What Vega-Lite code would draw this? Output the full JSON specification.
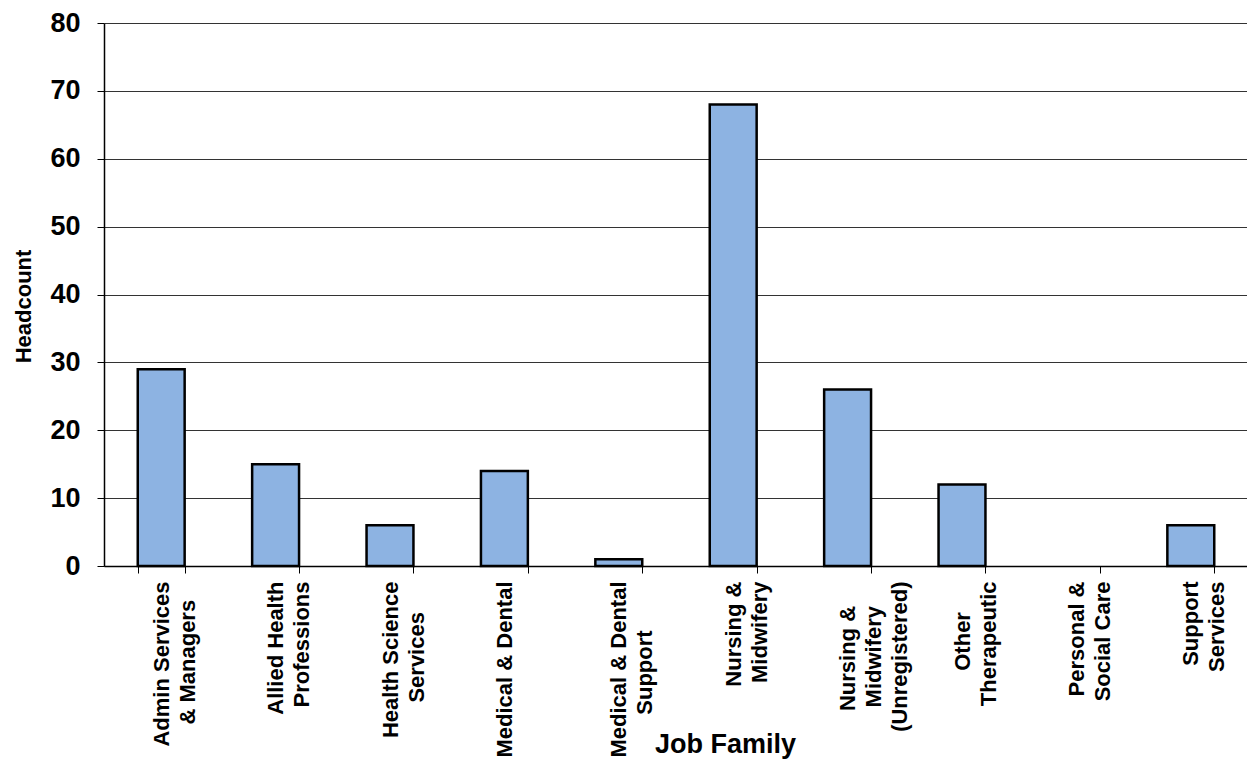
{
  "$schema": "https://vega.github.io/schema/vega-lite/v6.json",
  "autosize": {"type": "none"},
  "width": 1144,
  "height": 543,
  "padding": {"left": 104, "top": 23, "right": 0, "bottom": 197},
  "background": "white",
  "config": {
    "view": {"stroke": null},
    "font": "Liberation Sans"
  },
  "data": {
    "values": [
      {"job_family": "Admin Services & Managers", "headcount": 29},
      {"job_family": "Allied Health Professions", "headcount": 15},
      {"job_family": "Health Science Services", "headcount": 6},
      {"job_family": "Medical & Dental", "headcount": 14},
      {"job_family": "Medical & Dental Support", "headcount": 1},
      {"job_family": "Nursing & Midwifery", "headcount": 68},
      {"job_family": "Nursing & Midwifery (Unregistered)", "headcount": 26},
      {"job_family": "Other Therapeutic", "headcount": 12},
      {"job_family": "Personal & Social Care", "headcount": 0},
      {"job_family": "Support Services", "headcount": 6}
    ]
  },
  "mark": {"type": "bar", "color": "#8DB3E2", "stroke": "#000000"},
  "encoding": {
    "x": {
      "field": "job_family",
      "type": "nominal",
      "sort": null,
      "scale": {"paddingInner": 0.59, "paddingOuter": 0.295},
      "axis": {
        "title": "Job Family",
        "titleFont": "Liberation Sans",
        "titleFontSize": 27,
        "titleFontWeight": "bold",
        "titleColor": "#000000",
        "titleX": 621,
        "titleY": 186,
        "titleAlign": "center",
        "titleBaseline": "alphabetic",
        "labelExpr": "{'Admin Services & Managers': ['Admin Services', '& Managers\u00a0\u00a0\u00a0\u200b'], 'Allied Health Professions': ['Allied Health', 'Professions'], 'Health Science Services': ['Health Science', 'Services\u00a0\u00a0\u00a0\u00a0\u00a0\u200b'], 'Medical & Dental': ['Medical & Dental'], 'Medical & Dental Support': ['Medical & Dental', 'Support\u00a0\u00a0\u00a0\u00a0\u00a0\u00a0\u00a0\u00a0\u200b'], 'Nursing & Midwifery': ['Nursing &', 'Midwifery'], 'Nursing & Midwifery (Unregistered)': ['Nursing &\u00a0\u00a0\u00a0\u00a0\u200b', 'Midwifery\u00a0\u00a0\u00a0\u00a0\u200b', '(Unregistered)'], 'Other Therapeutic': ['Other\u00a0\u00a0\u00a0\u00a0\u00a0\u200b', 'Therapeutic'], 'Personal & Social Care': ['Personal &', 'Social Care'], 'Support Services': ['Support', 'Services']}[datum.label]",
        "labelAngle": -90,
        "labelAlign": "right",
        "labelBaseline": "middle",
        "labelLineHeight": 26,
        "labelFont": "Liberation Sans",
        "labelFontSize": 22,
        "labelFontWeight": "bold",
        "labelColor": "#000000",
        "labelLimit": 400,
        "labelPadding": 8,
        "labelOverlap": false,
        "tickBand": "extent",
        "ticks": true,
        "tickSize": 7,
        "tickColor": "#000000",
        "tickWidth": 1,
        "domain": true,
        "domainColor": "#000000",
        "domainWidth": 1.5,
        "grid": false
      }
    },
    "y": {
      "field": "headcount",
      "type": "quantitative",
      "scale": {"domain": [0, 80], "nice": false},
      "axis": {
        "title": "Headcount",
        "titleFont": "Liberation Sans",
        "titleFontSize": 22,
        "titleFontWeight": "bold",
        "titleColor": "#000000",
        "titleAngle": -90,
        "titleAlign": "center",
        "titleBaseline": "middle",
        "titleX": -81,
        "titleY": 283,
        "values": [0, 10, 20, 30, 40, 50, 60, 70, 80],
        "labelFont": "Liberation Sans",
        "labelFontSize": 27,
        "labelFontWeight": "bold",
        "labelColor": "#000000",
        "labelPadding": 17,
        "tickSize": 7,
        "tickColor": "#000000",
        "domain": true,
        "domainColor": "#000000",
        "domainWidth": 1.5,
        "grid": true,
        "gridColor": "#333333",
        "gridWidth": 1
      }
    },
    "strokeWidth": {
      "condition": {"test": "datum.headcount === 0", "value": 0},
      "value": 2.5
    }
  }
}
